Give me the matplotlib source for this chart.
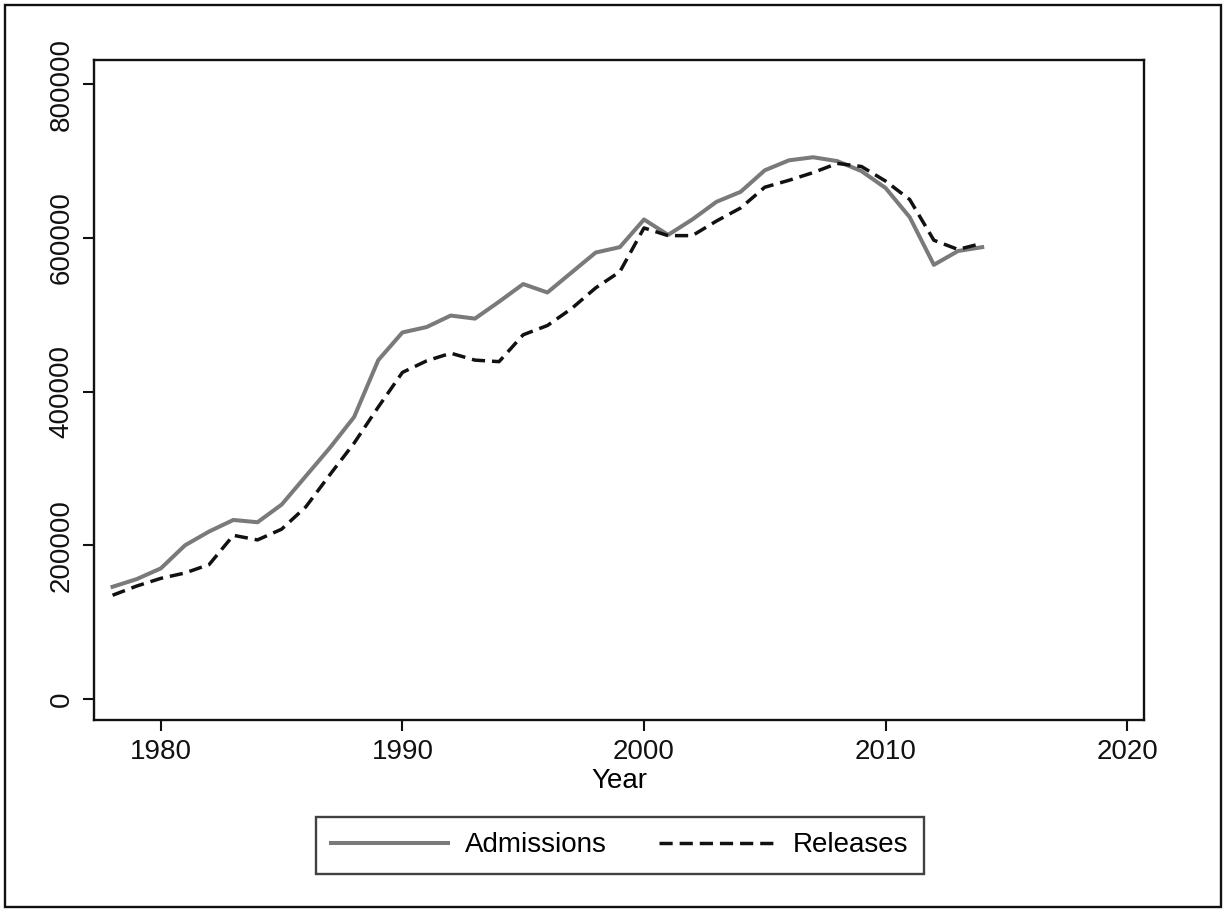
import matplotlib.pyplot as plt
import matplotlib.patches as patches

plt.rcParams['font.family'] = ['Liberation Sans', 'DejaVu Sans']

years = list(range(1978, 2015))

admissions = [146000, 156000, 170000, 200000, 218000, 233000, 230000, 253000,
              290000, 327000, 367000, 441000, 477000, 484000, 499000, 495000,
              517000, 540000, 529000, 555000, 581000, 588000, 624000, 604000,
              624000, 647000, 660000, 688000, 701000, 705000, 700000, 687000,
              665000, 627000, 565000, 583000, 588000]

releases = [135000, 147000, 157000, 164000, 175000, 213000, 207000, 221000,
            250000, 292000, 333000, 380000, 425000, 440000, 450000, 441000,
            439000, 474000, 486000, 508000, 535000, 556000, 613000, 603000,
            603000, 622000, 639000, 666000, 675000, 685000, 697000, 693000,
            674000, 650000, 597000, 585000, 593000]

xticks = [1980, 1990, 2000, 2010, 2020]
yticks = [0, 200000, 400000, 600000, 800000]

fig = plt.figure(figsize=(12.25, 9.11), dpi=100)
ax = fig.add_axes([0.0767, 0.2097, 0.8572, 0.7243])

ax.plot(years, admissions, color='#7a7a7a', lw=2.9, label='Admissions')
ax.plot(years, releases, color='#111111', lw=2.5, ls=(0, (3.8, 2)), label='Releases')

ax.set_xlim(1977.23, 2020.7)
ax.set_ylim(-27300, 831400)
ax.set_xticks(xticks)
ax.set_yticks(yticks)
ax.set_yticklabels([str(v) for v in yticks], rotation=90, va='center')
ax.tick_params(labelsize=20, length=8, width=1.5, pad=6, colors='#111111')
for s in ax.spines.values():
	s.set_linewidth(1.7)
	s.set_color('#111111')

ax.set_xlabel("Year", fontsize=20, labelpad=2)

leg = fig.legend(loc='center', bbox_to_anchor=(0.506, 0.0719), ncol=2,
                 fontsize=20, frameon=True, fancybox=False,
                 handlelength=4.2, handletextpad=0.6, columnspacing=1.9,
                 borderpad=0.55)
leg.get_frame().set_edgecolor('#111111')
leg.get_frame().set_linewidth(1.7)

# outer frame around the whole graph
fig.patches.append(patches.Rectangle((0.004, 0.0044), 0.9927, 0.990,
                                     transform=fig.transFigure, fill=False,
                                     edgecolor='#111111', lw=1.7))

fig.savefig("out.png", dpi=100)
